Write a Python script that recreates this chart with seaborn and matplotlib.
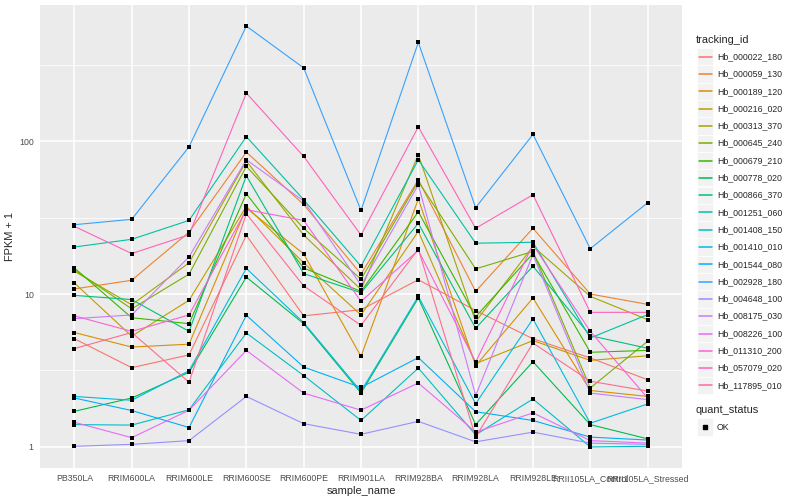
import pandas as pd
import seaborn as sns
import matplotlib.pyplot as plt
from matplotlib.patches import Rectangle
from matplotlib.lines import Line2D
from matplotlib.ticker import FixedLocator, NullFormatter

# samples on the x axis, in plot order
samples = ['PB350LA', 'RRIM600LA', 'RRIM600LE', 'RRIM600SE', 'RRIM600PE',
           'RRIM901LA', 'RRIM928BA', 'RRIM928LA', 'RRIM928LE',
           'RRII105LA_Control', 'RRII105LA_Stressed']

# FPKM + 1 per gene
hb_000022_180 = [5.1, 3.3, 4.0, 24.2, 7.2, 7.9, 12.4, 7.8, 5.1, 3.82, 2.75]
hb_000059_130 = [10.8, 12.3, 25.4, 84.7, 38.5, 13.5, 55.9, 10.4, 26.9, 10.0, 8.56]
hb_000189_120 = [5.6, 4.5, 4.7, 36.5, 18.3, 3.91, 41.8, 3.40, 9.42, 2.34, 2.14]
hb_000216_020 = [11.8, 5.3, 9.1, 37.4, 16.0, 7.3, 25.7, 3.51, 4.96, 3.68, 3.95]
hb_000313_370 = [14.1, 8.5, 16.0, 74.0, 24.3, 10.7, 81.4, 6.6, 20.5, 9.65, 6.80]
hb_000645_240 = [14.4, 8.0, 13.5, 68.3, 26.9, 12.5, 54.5, 14.6, 19.0, 2.43, 4.91]
hb_000679_210 = [14.8, 7.0, 6.4, 45.3, 14.8, 10.4, 34.5, 7.1, 18.4, 4.16, 4.28]
hb_000778_020 = [1.71, 2.09, 3.08, 12.9, 6.4, 2.25, 9.42, 1.40, 3.61, 1.40, 1.13]
hb_000866_370 = [9.8, 9.2, 5.7, 59.3, 13.6, 10.2, 29.0, 5.97, 15.2, 5.34, 4.42]
hb_001251_060 = [20.3, 22.8, 30.3, 107, 41.4, 15.2, 75.5, 21.5, 21.8, 5.16, 7.33]
hb_001408_150 = [1.40, 1.39, 1.75, 5.56, 2.93, 1.49, 3.28, 1.20, 2.06, 1.0, 1.01]
hb_001410_010 = [2.14, 2.02, 3.15, 14.7, 6.5, 2.31, 9.66, 1.92, 6.87, 1.43, 1.91]
hb_001544_080 = [2.09, 1.73, 1.34, 7.26, 3.33, 2.45, 3.84, 1.70, 1.49, 1.16, 1.11]
hb_002928_180 = [28.4, 30.8, 91.8, 565, 301, 35.2, 442, 36.7, 110.6, 19.8, 39.5]
hb_004648_100 = [1.01, 1.04, 1.10, 2.14, 1.42, 1.21, 1.47, 1.08, 1.25, 1.06, 1.04]
hb_008175_030 = [6.9, 7.3, 17.5, 75.5, 40.6, 11.4, 51.8, 2.17, 18.1, 2.25, 2.04]
hb_008226_100 = [1.45, 1.15, 1.74, 4.28, 2.25, 1.74, 2.62, 1.25, 1.67, 1.10, 1.06]
hb_011310_200 = [7.2, 5.7, 7.3, 35.6, 30.3, 8.95, 19.3, 3.59, 21.0, 5.70, 2.09]
hb_057079_020 = [27.7, 18.4, 24.4, 206, 79.4, 24.3, 124, 26.9, 44.6, 7.59, 7.59]
hb_117895_010 = [4.4, 5.6, 2.65, 33.5, 11.3, 6.24, 19.7, 1.16, 4.78, 2.69, 2.32]

tracking_ids = ['Hb_000022_180', 'Hb_000059_130', 'Hb_000189_120', 'Hb_000216_020',
                'Hb_000313_370', 'Hb_000645_240', 'Hb_000679_210', 'Hb_000778_020',
                'Hb_000866_370', 'Hb_001251_060', 'Hb_001408_150', 'Hb_001410_010',
                'Hb_001544_080', 'Hb_002928_180', 'Hb_004648_100', 'Hb_008175_030',
                'Hb_008226_100', 'Hb_011310_200', 'Hb_057079_020', 'Hb_117895_010']
series = [hb_000022_180, hb_000059_130, hb_000189_120, hb_000216_020,
          hb_000313_370, hb_000645_240, hb_000679_210, hb_000778_020,
          hb_000866_370, hb_001251_060, hb_001408_150, hb_001410_010,
          hb_001544_080, hb_002928_180, hb_004648_100, hb_008175_030,
          hb_008226_100, hb_011310_200, hb_057079_020, hb_117895_010]

# ggplot hue palette, 20 levels
colors = ['#F8766D', '#EA8331', '#D89000', '#C09B00', '#A3A500', '#7CAE00',
          '#39B600', '#00BB4E', '#00BF7D', '#00C1A3', '#00BFC4', '#00BAE0',
          '#00B0F6', '#35A2FF', '#9590FF', '#C77CFF', '#E76BF3', '#FA62DB',
          '#FF62BC', '#FF6C91']

rows = []
for tid, vals in zip(tracking_ids, series):
    for s, v in zip(samples, vals):
        rows.append({'tracking_id': tid, 'sample_name': s, 'fpkm': v})
df = pd.DataFrame(rows)

sns.set_style('white')
plt.rcParams['font.family'] = ['Liberation Sans', 'DejaVu Sans']

fig = plt.figure(figsize=(8, 5), dpi=100)
ax = fig.add_axes([40 / 800, 32 / 500, 642 / 800, 463 / 500])
ax.set_facecolor('#EBEBEB')

sns.lineplot(data=df, x='sample_name', y='fpkm', hue='tracking_id',
             hue_order=tracking_ids, palette=colors, estimator=None,
             sort=False, lw=0.8, legend=False, ax=ax)
sns.scatterplot(data=df, x='sample_name', y='fpkm', color='black', marker='s',
                s=7, linewidth=0, legend=False, ax=ax, zorder=5)

ax.set_yscale('log')
ax.set_ylim(10 ** -0.1376, 10 ** 2.89)
ax.set_xlim(-0.6, len(samples) - 0.4)
ax.yaxis.set_major_locator(FixedLocator([1, 10, 100]))
ax.set_yticklabels(['1', '10', '100'])
ax.yaxis.set_minor_locator(FixedLocator([10 ** 0.5, 10 ** 1.5, 10 ** 2.5]))
ax.yaxis.set_minor_formatter(NullFormatter())

ax.set_axisbelow(True)
ax.grid(which='major', color='white', lw=1.1)
ax.grid(which='minor', axis='y', color='white', lw=0.55)
for sp in ax.spines.values():
    sp.set_visible(False)
ax.tick_params(which='major', length=2.5, width=0.6, color='#333333',
               labelcolor='#4D4D4D', labelsize=6.3, pad=2)
ax.tick_params(which='minor', length=0)

ax.set_xlabel('sample_name', fontsize=7.9, labelpad=2)
ax.set_ylabel('FPKM + 1', fontsize=7.9, labelpad=3)

# legend, drawn like ggplot keys
def px(x, y):
    return x / 800, 1 - y / 500

fig.text(*px(696, 40), 'tracking_id', fontsize=7.9, va='center', ha='left')
for i, (tid, c) in enumerate(zip(tracking_ids, colors)):
    yc = 56.7 + i * 17.3
    x0, y0 = px(697, yc + 8.6)
    fig.patches.append(Rectangle((x0, y0), 16 / 800, 17.2 / 500, transform=fig.transFigure,
                                 facecolor='#F2F2F2', edgecolor='white', lw=0.5, zorder=1))
    fig.lines.append(Line2D([698.5 / 800, 711.5 / 800], [1 - yc / 500] * 2,
                            transform=fig.transFigure, color=c, lw=1.1, zorder=3))
    fig.text(*px(717, yc), tid, fontsize=6.3, va='center', ha='left')

fig.text(*px(696, 410), 'quant_status', fontsize=7.9, va='center', ha='left')
x0, y0 = px(697, 427 + 8.6)
fig.patches.append(Rectangle((x0, y0), 16 / 800, 17.2 / 500, transform=fig.transFigure,
                             facecolor='#F2F2F2', edgecolor='white', lw=0.5, zorder=1))
fig.lines.append(Line2D([705 / 800], [1 - 427 / 500], transform=fig.transFigure,
                        color='black', marker='s', markersize=2.6, lw=0, zorder=3))
fig.text(*px(717, 427), 'OK', fontsize=6.3, va='center', ha='left')

fig.savefig('out.png', dpi=100, facecolor='white')
